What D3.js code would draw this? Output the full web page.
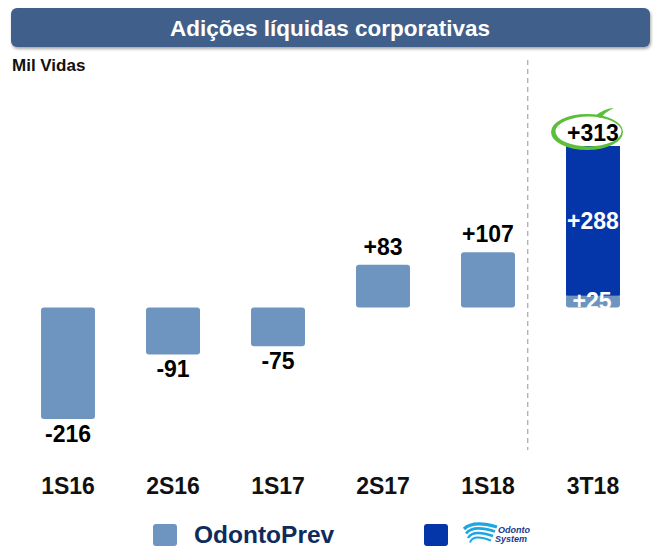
<!DOCTYPE html>
<html lang="pt">
<head>
    <meta charset="UTF-8">
    <title>Adições líquidas corporativas</title>
    <script src="https://d3js.org/d3.v7.min.js"></script>
    <style>
        body { margin: 0; background: #fff; }
        text { font-family: "Liberation Sans", Arial, sans-serif; }
    </style>
</head>
<body>
<script>
    // dados (mil vidas)
    var categories = ['1S16', '2S16', '1S17', '2S17', '1S18', '3T18'];
    var odontoPrev = [-216, -91, -75, 83, 107, 25];
    var odontoSystem = [0, 0, 0, 0, 0, 288];
    var legendLabels = ['OdontoPrev', 'Odonto System'];

    var width = 655, height = 547;
    var lightBlue = '#6e94c0', darkBlue = '#0536a9';

    var svg = d3.select('body').append('svg')
            .attr('width', width)
            .attr('height', height);

    var defs = svg.append('defs');
    var shadow = defs.append('filter').attr('id', 'shadow')
            .attr('x', '-5%').attr('y', '-20%').attr('width', '110%').attr('height', '160%');
    shadow.append('feDropShadow').attr('dx', 1).attr('dy', 2)
            .attr('stdDeviation', 1.5).attr('flood-color', '#000').attr('flood-opacity', 0.35);

    // barra do titulo
    svg.append('rect')
            .attr('x', 11).attr('y', 8)
            .attr('width', 639).attr('height', 39)
            .attr('rx', 6)
            .attr('fill', '#3f5f8a')
            .attr('filter', 'url(#shadow)');
    svg.append('text')
            .attr('x', 330).attr('y', 36)
            .attr('text-anchor', 'middle')
            .attr('fill', '#fff')
            .attr('font-size', '22.5px')
            .attr('font-weight', 'bold')
            .text('Adições líquidas corporativas');

    svg.append('text')
            .attr('x', 12).attr('y', 71)
            .attr('font-size', '17px')
            .attr('font-weight', 'bold')
            .attr('fill', '#111')
            .text('Mil Vidas');

    // escalas
    var x = d3.scaleBand()
            .domain(categories)
            .range([15.5, 645.5])
            .paddingInner(0.486)
            .paddingOuter(0.243);

    var y = d3.scaleLinear()
            .domain([-216, 313])
            .range([419, 146]);

    // linha tracejada antes do 3T18
    var sepX = x('1S18') + x.bandwidth() + (x.step() - x.bandwidth()) / 4;
    svg.append('line')
            .attr('x1', sepX).attr('x2', sepX)
            .attr('y1', 60).attr('y2', 450)
            .attr('stroke', '#a6a6a6')
            .attr('stroke-width', 1.2)
            .attr('stroke-dasharray', '5,4');

    var rows = categories.map(function(c, i) {
        return {cat: c, prev: odontoPrev[i], sys: odontoSystem[i], total: odontoPrev[i] + odontoSystem[i]};
    });

    function sign(v) { return v > 0 ? '+' + v : '' + v; }

    // barras OdontoPrev
    svg.selectAll('rect.prev')
            .data(rows)
            .enter().append('rect')
            .attr('class', 'prev')
            .attr('x', function(d) { return x(d.cat); })
            .attr('y', function(d) { return y(Math.max(0, d.prev)); })
            .attr('width', x.bandwidth())
            .attr('height', function(d) { return Math.abs(y(d.prev) - y(0)); })
            .attr('rx', 3)
            .attr('fill', lightBlue);

    // barras Odonto System (empilhadas)
    svg.selectAll('rect.sys')
            .data(rows.filter(function(d) { return d.sys > 0; }))
            .enter().append('rect')
            .attr('class', 'sys')
            .attr('x', function(d) { return x(d.cat); })
            .attr('y', function(d) { return y(d.prev + d.sys); })
            .attr('width', x.bandwidth())
            .attr('height', function(d) { return y(d.prev) - y(d.prev + d.sys) + 1; })
            .attr('fill', darkBlue);

    // rotulos de valor
    svg.selectAll('text.val')
            .data(rows)
            .enter().append('text')
            .attr('class', 'val')
            .attr('x', function(d) { return x(d.cat) + x.bandwidth() / 2; })
            .attr('y', function(d) {
                return d.total < 0 ? y(d.total) + 23 : y(d.total) - (d.sys > 0 ? 5 : 10);
            })
            .attr('text-anchor', 'middle')
            .attr('font-size', '23px')
            .attr('font-weight', 'bold')
            .attr('fill', '#000')
            .text(function(d) { return sign(d.total); });

    // rotulos internos do 3T18
    var last = rows[rows.length - 1];
    var cx = x(last.cat) + x.bandwidth() / 2;
    svg.append('text')
            .attr('x', cx).attr('y', (y(last.prev) + y(last.total)) / 2 + 9)
            .attr('text-anchor', 'middle')
            .attr('font-size', '23px').attr('font-weight', 'bold')
            .attr('fill', '#fff')
            .text(sign(last.sys));
    svg.append('text')
            .attr('x', cx - 1).attr('y', y(0) + 1)
            .attr('text-anchor', 'middle')
            .attr('font-size', '23px').attr('font-weight', 'bold')
            .attr('fill', '#fff')
            .text(sign(last.prev));

    // circulo verde em volta do total
    var ey = y(last.total) - 14, ex = cx - 6;
    svg.append('path')
            .attr('d', 'M' + (ex - 36) + ',' + ey +
                    'a36,18 0 1,0 72,0 a36,18 0 1,0 -72,0 Z' +
                    'M' + (ex - 31.5) + ',' + (ey - 0.5) +
                    'a33,15 0 1,0 66,0 a33,15 0 1,0 -66,0 Z')
            .attr('fill', '#5cbf3a')
            .attr('fill-rule', 'evenodd');
    // ponta do traço
    svg.append('path')
            .attr('d', 'M' + (ex + 8) + ',' + (ey - 16) +
                    ' Q' + (ex + 18) + ',' + (ey - 24) + ' ' + (ex + 27) + ',' + (ey - 24) +
                    ' Q' + (ex + 18) + ',' + (ey - 20) + ' ' + (ex + 14) + ',' + (ey - 14) + ' Z')
            .attr('fill', '#5cbf3a');

    // eixo de categorias
    svg.selectAll('text.cat')
            .data(categories)
            .enter().append('text')
            .attr('class', 'cat')
            .attr('x', function(d) { return x(d) + x.bandwidth() / 2; })
            .attr('y', 494)
            .attr('text-anchor', 'middle')
            .attr('font-size', '23px')
            .attr('font-weight', 'bold')
            .attr('fill', '#111')
            .text(function(d) { return d; });

    // legenda
    svg.append('rect')
            .attr('x', 153).attr('y', 524).attr('width', 24).attr('height', 22)
            .attr('rx', 3).attr('fill', lightBlue);
    svg.append('text')
            .attr('x', 194).attr('y', 543)
            .attr('font-size', '24.5px').attr('font-weight', 'bold')
            .attr('fill', '#0f2b5b')
            .text(legendLabels[0]);

    svg.append('rect')
            .attr('x', 424).attr('y', 524).attr('width', 24).attr('height', 22)
            .attr('rx', 3).attr('fill', darkBlue);

    // logo Odonto System (aproximado)
    var logo = svg.append('g').attr('transform', 'translate(463,523)');
    [0, 4.5, 9, 13.5].forEach(function(o, i) {
        logo.append('path')
                .attr('d', 'M' + (1 + i * 2) + ',' + (o + 6) + ' Q' + (10) + ',' + (o - 3) + ' ' + (34 - i * 2) + ',' + (o + 4))
                .attr('fill', 'none')
                .attr('stroke', '#1ea6e3')
                .attr('stroke-width', 3.2 - i * 0.4);
    });
    logo.append('text')
            .attr('x', 35).attr('y', 10)
            .attr('font-size', '9px').attr('font-weight', 'bold').attr('font-style', 'italic')
            .attr('fill', '#1a3a8a')
            .text('Odonto');
    logo.append('text')
            .attr('x', 32).attr('y', 19)
            .attr('font-size', '9px').attr('font-weight', 'bold').attr('font-style', 'italic')
            .attr('fill', '#1a3a8a')
            .text('System');
</script>
</body>
</html>
